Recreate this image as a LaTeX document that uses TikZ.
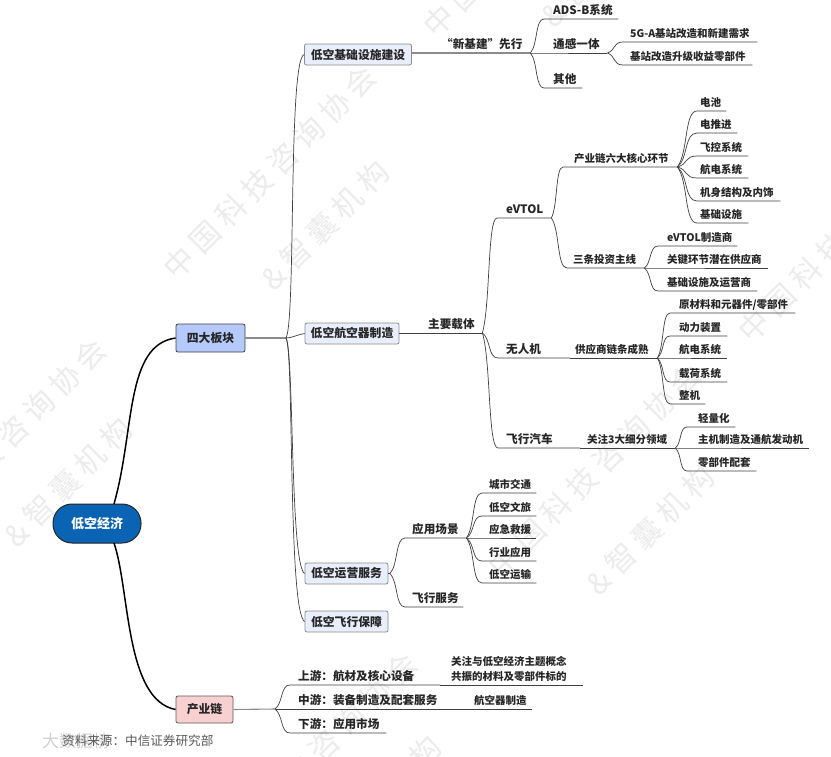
\documentclass[tikz,border=0pt]{standalone}
\usepackage{fontspec}
\setmainfont{Noto Sans CJK SC}
\usetikzlibrary{calc}
\definecolor{wmgrey}{HTML}{ECECEC}
\tikzset{
  x=1pt,y=-1pt,
  conn/.style={draw=black!75,line width=0.7pt},
  thick conn/.style={draw=black!45,line width=1.1pt},
  rootline/.style={draw=black,line width=1.5pt},
  leaf/.style={anchor=south west,inner xsep=0pt,inner ysep=0pt,text depth=4.6pt,align=left,
     font=\fontsize{10.5}{15}\selectfont\bfseries,text=black!85},
  midleaf/.style={leaf,text depth=4.8pt,font=\fontsize{11.6}{15}\selectfont\bfseries},
  box/.style={draw=black!60,rounded corners=2pt,inner sep=0pt,line width=0.8pt,
     font=\fontsize{11.8}{14}\selectfont\bfseries,text=black!85},
  sector/.style={box,fill=blue!6!white,draw=black!45},
  rootbox/.style={draw=black!85,line width=1pt,fill=rootblue,rounded corners=19pt,inner sep=0pt,
     text=white,font=\fontsize{13}{16}\selectfont\bfseries},
  wm/.style={text=wmgrey,rotate=45,font=\fontsize{30}{32}\selectfont\addfontfeature{LetterSpace=22}},
}
\definecolor{rootblue}{HTML}{0B63B4}
\definecolor{secblue}{HTML}{B5C9FB}
\definecolor{secred}{HTML}{F9D0D0}
\definecolor{subblue}{HTML}{E9EEFC}
% name, x start, x end, y of underline, x of text, text, style
\newcommand{\lf}[7][leaf]{\node[#1,text width=\dimexpr#4pt-#3pt\relax] (#2) at (#3,#5) {\hspace*{\dimexpr#6pt-#3pt\relax}#7};}
\newcommand{\branch}[2]{\draw[conn] let \p1=(#1),\p2=(#2.south west),\n1={\x2-\x1},\n2={\y2-\y1} in
  (\p1) .. controls ({\x1+.55*\n1},{\y1+.25*\n2}) and ({\x1+.35*\n1},{\y2}) .. (\p2) -- (#2.south east);}
\newcommand{\kids}[2]{\foreach \k in {#2} {\branch{#1}{\k}}}
\begin{document}
\begin{tikzpicture}
\useasboundingbox (0,0) rectangle (831,756);
\fill[white] (0,0) rectangle (831,756);
% watermark
\begin{scope}
\clip (0,0) rectangle (831,756);
\node[wm] at (270,172) {中国科技咨询协会};
\node[wm] at (325,225) {\&智囊机构};
\node[wm] at (68,482) {\&智囊机构};
\node[wm] at (0,445) {中国科技咨询协会};
\node[wm] at (595,470) {中国科技咨询协会};
\node[wm] at (650,530) {\&智囊机构};
\node[wm] at (845,235) {中国科技咨询协会};
\node[wm] at (530,-70) {中国科技咨询协会};
\node[wm] at (605,-38) {\&智囊机构};
\node[wm] at (311,759) {中国科技咨询协会};
\node[wm] at (377,800) {\&智囊机构};
\end{scope}
% main nodes
\node[rootbox,minimum width=88pt,minimum height=39pt] (root) at (97,523.5) {低空经济};
\node[box,fill=secblue,draw=black!75,minimum width=69pt,minimum height=28pt] (four) at (210.5,338) {四大板块};
\node[box,fill=secred,draw=black!65,minimum width=57pt,minimum height=27pt] (chain) at (204.5,709.5) {产业链};
\node[sector,fill=subblue,minimum width=107pt,minimum height=21pt] (infra) at (358,54.5) {低空基础设施建设};
\node[sector,fill=subblue,minimum width=94pt,minimum height=21pt] (craft) at (352,333.5) {低空航空器制造};
\node[sector,fill=subblue,minimum width=83pt,minimum height=21pt] (ops) at (346.5,573.5) {低空运营服务};
\node[sector,fill=subblue,minimum width=83pt,minimum height=21pt] (safe) at (346.5,621.5) {低空飞行保障};
\coordinate (j4) at (286,338);
\coordinate (jc) at (275,709);
% root links
\draw[rootline] (114,504) .. controls (135,430) and (125,345) .. (four.west);
\draw[rootline] (114,543) .. controls (130,590) and (125,700) .. (chain.west);
\draw[thick conn] (four.east) -- (j4);
\draw[thick conn] (chain.east) -- (jc);
\draw[conn] (j4) .. controls (296,320) and (288,60) .. (infra.west);
\draw[conn] (j4) .. controls (292,338) and (296,335) .. (craft.west);
\draw[conn] (j4) .. controls (294,350) and (290,565) .. (ops.west);
\draw[conn] (j4) .. controls (294,350) and (288,612) .. (safe.west);
% infrastructure
\lf[midleaf]{xjj}{411}{530}{53}{441}{“新基建”先行}
\lf[midleaf]{ads}{544}{618}{19}{553}{ADS-B系统}
\lf[midleaf]{tg}{530}{607}{53}{553}{通感一体}
\lf[midleaf]{qt}{544}{582}{88}{553}{其他}
\lf{fga}{623}{757}{42}{630}{5G-A基站改造和新建需求}
\lf{jz}{623}{752}{65}{630}{基站改造升级收益零部件}
\draw[thick conn] (xjj.south west) -- (xjj.south east);
\kids{xjj.south east}{ads,tg,qt}
\kids{tg.south east}{fga,jz}
% aircraft
\lf[midleaf]{zyzt}{399}{482}{333}{428}{主要载体}
\lf[midleaf]{evtol}{497}{551}{218}{506}{eVTOL}
\lf[midleaf]{wrj}{498}{570}{358}{506}{无人机}
\lf[midleaf]{fxqc}{498}{580}{448}{506}{飞行汽车}
\draw[conn] (zyzt.south west) -- (zyzt.south east);
\kids{zyzt.south east}{evtol,wrj,fxqc}
\lf{six}{563}{677}{167}{574}{产业链六大核心环节}
\lf{three}{567}{644}{268}{573}{三条投资主线}
\kids{evtol.south east}{six,three}
\lf{dc}{697}{726}{111}{700}{电池}
\lf{dtj}{697}{737}{133}{700}{电推进}
\lf{fk}{697}{748}{156}{700}{飞控系统}
\lf{hd}{697}{748}{178}{700}{航电系统}
\lf{js}{697}{780}{201}{700}{机身结构及内饰}
\lf{jc1}{697}{748}{223}{700}{基础设施}
\kids{six.south east}{dc,dtj,fk,hd,js,jc1}
\lf{emk}{658}{737}{246}{667}{eVTOL制造商}
\lf{gjh}{644}{768}{268}{667}{关键环节潜在供应商}
\lf{jcs}{658}{757}{291}{667}{基础设施及运营商}
\kids{three.south east}{emk,gjh,jcs}
\lf{gys}{570}{657}{358}{575}{供应商链条成熟}
\draw[conn] (gys.south west) -- (gys.south east);
\lf{ycl}{670}{795}{313}{679}{原材料和元器件/零部件}
\lf{dl}{670}{727}{336}{679}{动力装置}
\lf{hd2}{657}{727}{358}{679}{航电系统}
\lf{zh}{670}{727}{382}{679}{载荷系统}
\lf{zj}{670}{705}{404}{679}{整机}
\kids{gys.south east}{ycl,dl,hd2,zh,zj}
\lf{gz}{580}{675}{448}{587}{关注3大细分领域}
\draw[conn] (gz.south west) -- (gz.south east);
\lf{qlh}{687}{735}{427}{698}{轻量化}
\lf{zjz}{675}{809}{448}{698}{主机制造及通航发动机}
\lf{ljp}{687}{756}{471}{698}{零部件配套}
\kids{gz.south east}{qlh,zjz,ljp}
% operations
\coordinate (jo) at (390,573.5);
\draw[conn] (ops.east) -- (jo);
\lf[midleaf]{yy}{405}{466}{538}{412}{应用场景}
\lf[midleaf]{fw}{405}{463}{607}{412}{飞行服务}
\kids{jo}{yy,fw}
\lf{cs}{482}{536}{493}{489}{城市交通}
\lf{dk}{482}{536}{516}{489}{低空文旅}
\lf{yj}{466}{536}{538}{489}{应急救援}
\lf{hy}{482}{536}{561}{489}{行业应用}
\lf{ys}{482}{536}{583}{489}{低空运输}
\kids{yy.south east}{cs,dk,yj,hy,ys}
% chain
\lf[midleaf]{sy}{290}{440}{685}{298}{上游：航材及核心设备}
\lf[midleaf]{zy}{275}{450}{709}{298}{中游：装备制造及配套服务}
\lf[midleaf]{xy}{290}{386}{733}{298}{下游：应用市场}
\kids{jc}{sy,zy,xy}
\lf[leaf,text depth=19.6pt]{gzm}{440}{583}{685}{451}{关注与低空经济主题概念\\\mbox{}\hspace*{11pt}共振的材料及零部件标的}
\lf{hkq}{450}{532}{709}{474}{航空器制造}
\draw[conn] (sy.south east) -- (gzm.south east);
\draw[conn] (zy.south east) -- (hkq.south east);
% footer
\node[anchor=west,inner sep=0pt,text=black!18,font=\fontsize{17}{19}\selectfont] (logo) at (42,741) {大数据榜};
\node[anchor=west,inner sep=0pt,text=black!65,font=\fontsize{12.6}{15}\selectfont] (src) at (62,741) {资料来源：中信证券研究部};
\end{tikzpicture}
\end{document}
